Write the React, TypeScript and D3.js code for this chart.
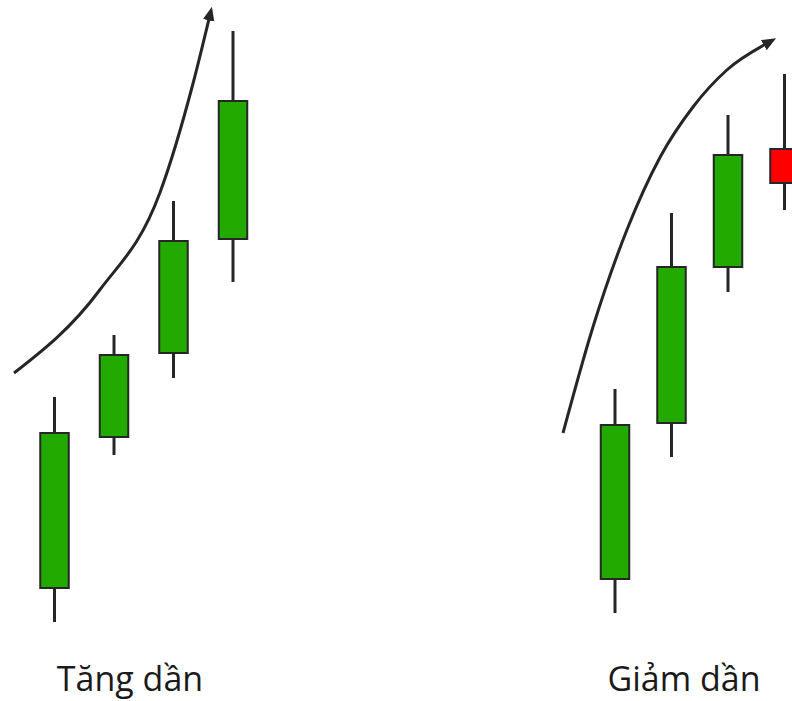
import React from "react";
import * as d3 from "d3";

// Left group: "Tăng dần" (increasing bodies)
const leftOpen = [11.3, 26.4, 34.8, 46.2];
const leftClose = [26.8, 34.6, 46.0, 60.0];
const leftHigh = [30.4, 36.6, 50.0, 67.0];
const leftLow = [7.9, 24.6, 32.3, 41.9];

// Right group: "Giảm dần" (weakening)
const rightOpen = [12.2, 27.8, 43.4, 55.2];
const rightClose = [27.6, 43.4, 54.6, 51.8];
const rightHigh = [31.2, 48.8, 58.6, 62.7];
const rightLow = [8.8, 24.4, 40.9, 49.1];

// Trend arrows in (candle index, price) units
const leftTrend: [number, number][] = [
  [-0.68, 32.8], [0.76, 41.1], [1.77, 50.8], [2.33, 61.8], [2.6, 68.3],
];
const rightTrend: [number, number][] = [
  [-0.92, 26.8], [-0.39, 37.4], [0.21, 47.1], [0.8, 54.4], [1.38, 59.4],
  [1.98, 63.1], [2.67, 65.7],
];

const labels = ["Tăng dần", "Giảm dần"];

const W = 792;
const H = 701;

const y = d3.scaleLinear().domain([0, 70]).range([701, 1]);
const xLeft = d3.scaleLinear().domain([0, 3]).range([54.5, 233]);
const xRight = d3.scaleLinear().domain([0, 3]).range([615, 784.5]);

const BODY_W = 28.5;
const GREEN = "#22aa00";
const RED = "#ff0000";
const DARK = "#262626";

function Candles({ x, open, close, high, low }: any) {
  return (
    <g>
      {open.map((o: number, i: number) => {
        const c = close[i];
        const cx = x(i);
        const top = y(Math.max(o, c));
        const bot = y(Math.min(o, c));
        return (
          <g key={i}>
            <line x1={cx} x2={cx} y1={y(high[i])} y2={y(low[i])} stroke={DARK} strokeWidth={3} />
            <rect
              x={cx - BODY_W / 2}
              y={top}
              width={BODY_W}
              height={bot - top}
              fill={c >= o ? GREEN : RED}
              stroke={DARK}
              strokeWidth={2}
            />
          </g>
        );
      })}
    </g>
  );
}

export default function App() {
  const lineL = d3
    .line<[number, number]>()
    .x((d) => xLeft(d[0]))
    .y((d) => y(d[1]))
    .curve(d3.curveMonotoneX);
  const lineR = d3
    .line<[number, number]>()
    .x((d) => xRight(d[0]))
    .y((d) => y(d[1]))
    .curve(d3.curveMonotoneX);

  return (
    <svg
      width={W}
      height={H}
      style={{ position: "absolute", left: 0, top: 0, background: "#fff" }}
      viewBox={`0 0 ${W} ${H}`}
    >
      <defs>
        <marker
          id="arrow"
          markerUnits="userSpaceOnUse"
          markerWidth={14}
          markerHeight={12}
          refX={2}
          refY={5}
          orient="auto"
          viewBox="0 0 12 10"
        >
          <path d="M0,0 L12,5 L0,10 Z" fill={DARK} />
        </marker>
      </defs>
      <rect x={0} y={0} width={W} height={H} fill="#fff" />
      <path d={lineL(leftTrend) || ""} fill="none" stroke={DARK} strokeWidth={3} markerEnd="url(#arrow)" />
      <path d={lineR(rightTrend) || ""} fill="none" stroke={DARK} strokeWidth={3} markerEnd="url(#arrow)" />
      <Candles x={xLeft} open={leftOpen} close={leftClose} high={leftHigh} low={leftLow} />
      <Candles x={xRight} open={rightOpen} close={rightClose} high={rightHigh} low={rightLow} />
      <text x={130} y={691} textAnchor="middle" fontFamily="'Open Sans', sans-serif" fontSize={34} fill="#1a1a1a">
        {labels[0]}
      </text>
      <text x={684} y={691} textAnchor="middle" fontFamily="'Open Sans', sans-serif" fontSize={34} fill="#1a1a1a">
        {labels[1]}
      </text>
    </svg>
  );
}
